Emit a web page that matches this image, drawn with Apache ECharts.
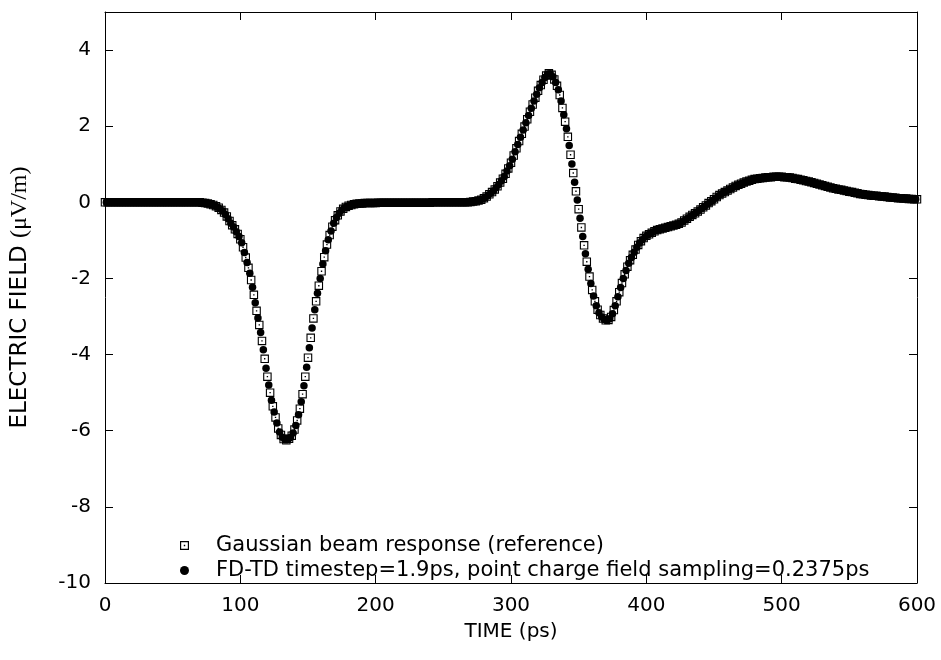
<!DOCTYPE html>
<html><head><meta charset="utf-8">
<script src="https://cdn.jsdelivr.net/npm/echarts@6/dist/echarts.min.js"></script>
<style>html,body{margin:0;padding:0;background:#fff}#c{width:941px;height:660px}</style>
</head><body><div id="c"></div>
<script>
// Sample times (ps): reference at 0,2,4,...,600 ; FD-TD at 1,3,...,599
const refStart = 0, refStep = 2;
const fdtdStart = 1, fdtdStep = 2;

const seriesNames = [
  'Gaussian beam response (reference)',
  'FD-TD timestep=1.9ps, point charge field sampling=0.2375ps'
];

const xTickLabels = ['0','100','200','300','400','500','600'];
const yTickLabels = ['-10','-8','-6','-4','-2','0','2','4'];

// Reference (Gaussian beam response), t = 0..600 step 2
const refValues = [
  0,0,0,0,0,0,0,0,0,0,                                   // 0-18
  0,0,0,0,0,0,0,0,0,0,                                   // 20-38
  0,0,0,0,0,0,0,0,0,0,                                   // 40-58
  0,0,0,0,0,0,-0.01,-0.02,-0.03,-0.05,                   // 60-78
  -0.07,-0.10,-0.14,-0.20,-0.27,-0.37,-0.49,-0.60,-0.71,-0.83,   // 80-98
  -0.97,-1.18,-1.45,-1.72,-2.04,-2.43,-2.85,-3.22,-3.64,-4.11,   // 100-118
  -4.58,-5.00,-5.36,-5.65,-5.94,-6.11,-6.22,-6.25,-6.21,-6.13,   // 120-138
  -5.97,-5.73,-5.42,-5.04,-4.58,-4.08,-3.56,-3.05,-2.60,-2.19,   // 140-158
  -1.81,-1.44,-1.11,-0.86,-0.64,-0.47,-0.34,-0.24,-0.17,-0.12,   // 160-178
  -0.09,-0.07,-0.05,-0.04,-0.03,-0.03,-0.02,-0.02,-0.02,-0.02,   // 180-198
  -0.02,-0.01,-0.01,-0.01,-0.01,-0.01,-0.01,-0.01,-0.01,-0.01,   // 200-218
  -0.01,-0.01,-0.01,-0.01,-0.01,-0.01,-0.01,-0.01,-0.01,-0.01,   // 220-238
  -0.01,0,0,0,0,0,0,0,0,0,                                       // 240-258
  0,0,0,0,0,0.01,0.02,0.03,0.05,0.07,                            // 260-278
  0.11,0.15,0.21,0.27,0.34,0.42,0.52,0.62,0.75,0.89,             // 280-298
  1.04,1.23,1.42,1.61,1.80,1.99,2.18,2.38,2.57,2.75,             // 300-318
  2.93,3.08,3.22,3.33,3.39,3.35,3.23,3.06,2.82,2.48,             // 320-338
  2.12,1.72,1.25,0.77,0.29,-0.18,-0.66,-1.13,-1.56,-1.95,        // 340-358
  -2.30,-2.60,-2.82,-2.96,-3.05,-3.10,-3.09,-3.01,-2.83,-2.60,   // 360-378
  -2.36,-2.12,-1.89,-1.69,-1.52,-1.38,-1.24,-1.12,-1.02,-0.94,   // 380-398
  -0.88,-0.84,-0.80,-0.76,-0.73,-0.71,-0.69,-0.67,-0.65,-0.63,   // 400-418
  -0.61,-0.59,-0.56,-0.53,-0.48,-0.43,-0.38,-0.33,-0.29,-0.24,   // 420-438
  -0.19,-0.13,-0.08,-0.02,0.03,0.08,0.14,0.19,0.23,0.27,         // 440-458
  0.31,0.35,0.39,0.43,0.46,0.49,0.52,0.55,0.57,0.59,             // 460-478
  0.61,0.62,0.63,0.64,0.65,0.66,0.66,0.67,0.67,0.67,             // 480-498
  0.67,0.66,0.66,0.65,0.64,0.62,0.61,0.59,0.58,0.56,             // 500-518
  0.55,0.53,0.51,0.49,0.47,0.45,0.43,0.41,0.39,0.37,             // 520-538
  0.36,0.34,0.33,0.31,0.30,0.28,0.27,0.25,0.24,0.22,             // 540-558
  0.21,0.20,0.19,0.18,0.17,0.17,0.16,0.15,0.15,0.14,             // 560-578
  0.13,0.13,0.12,0.11,0.11,0.10,0.10,0.09,0.09,0.08,             // 580-598
  0.08                                                           // 600
];

// FD-TD result, t = 1..599 step 2
const fdtdValues = [
  0,0,0,0,0,0,0,0,0,0,                                           // 1-19
  0,0,0,0,0,0,0,0,0,0,                                           // 21-39
  0,0,0,0,0,0,0,0,0,0,                                           // 41-59
  0,0,0,0,0,-0.01,-0.01,-0.02,-0.04,-0.06,                       // 61-79
  -0.08,-0.12,-0.17,-0.23,-0.32,-0.43,-0.55,-0.65,-0.77,-0.90,   // 81-99
  -1.06,-1.32,-1.58,-1.86,-2.23,-2.64,-3.04,-3.42,-3.87,-4.36,   // 101-119
  -4.80,-5.20,-5.51,-5.80,-6.03,-6.17,-6.24,-6.24,-6.18,-6.06,   // 121-139
  -5.86,-5.58,-5.24,-4.82,-4.33,-3.82,-3.30,-2.82,-2.39,-2.00,   // 141-159
  -1.62,-1.27,-0.98,-0.75,-0.55,-0.40,-0.29,-0.20,-0.14,-0.10,   // 161-179
  -0.08,-0.06,-0.05,-0.04,-0.03,-0.03,-0.02,-0.02,-0.02,-0.02,   // 181-199
  -0.01,-0.01,-0.01,-0.01,-0.01,-0.01,-0.01,-0.01,-0.01,-0.01,   // 201-219
  -0.01,-0.01,-0.01,-0.01,-0.01,-0.01,-0.01,-0.01,-0.01,-0.01,   // 221-239
  0,0,0,0,0,0,0,0,0,0,                                           // 241-259
  0,0,0,0,0.01,0.01,0.02,0.04,0.06,0.09,                         // 261-279
  0.13,0.18,0.24,0.30,0.38,0.47,0.57,0.68,0.82,0.96,             // 281-299
  1.13,1.33,1.52,1.71,1.90,2.09,2.28,2.47,2.66,2.84,             // 301-319
  3.01,3.15,3.28,3.37,3.38,3.30,3.15,2.96,2.66,2.30,             // 321-339
  1.93,1.49,1.01,0.53,0.06,-0.42,-0.90,-1.35,-1.76,-2.13,        // 341-359
  -2.46,-2.72,-2.90,-3.01,-3.08,-3.10,-3.06,-2.93,-2.72,-2.48,   // 361-379
  -2.24,-2.00,-1.79,-1.60,-1.45,-1.31,-1.18,-1.07,-0.98,-0.91,   // 381-399
  -0.86,-0.82,-0.78,-0.74,-0.72,-0.70,-0.68,-0.66,-0.64,-0.62,   // 401-419
  -0.60,-0.57,-0.55,-0.51,-0.46,-0.41,-0.36,-0.31,-0.26,-0.21,   // 421-439
  -0.16,-0.11,-0.05,0.00,0.05,0.11,0.16,0.21,0.25,0.29,          // 441-459
  0.33,0.37,0.41,0.44,0.47,0.50,0.53,0.56,0.58,0.60,             // 461-479
  0.61,0.63,0.64,0.65,0.65,0.66,0.66,0.67,0.67,0.67,             // 481-499
  0.67,0.66,0.65,0.65,0.63,0.61,0.60,0.58,0.57,0.55,             // 501-519
  0.54,0.52,0.50,0.48,0.46,0.44,0.42,0.40,0.38,0.36,             // 521-539
  0.35,0.33,0.32,0.30,0.29,0.27,0.26,0.24,0.23,0.22,             // 541-559
  0.20,0.19,0.18,0.17,0.17,0.16,0.15,0.15,0.14,0.14,             // 561-579
  0.13,0.12,0.12,0.11,0.10,0.10,0.09,0.09,0.08,0.08              // 581-599
];

const SANS = 'DejaVu Sans';
const squareSymbol = 'path://M0 0H10V10H0Z M1.3 1.3V8.7H8.7V1.3Z M4.2 4.2H5.8V5.8H4.2Z';

const refData = refValues.map((v, i) => [refStart + i * refStep, v]);
const fdtdData = fdtdValues.map((v, i) => [fdtdStart + i * fdtdStep, v]);

const lineStyle = { color: '#000', width: 1 };
const tickStyle = { inside: true, length: 8, lineStyle: { color: '#000', width: 1 } };

function xAxisBase(pos) {
  return {
    type: 'value', position: pos, min: 0, max: 600, interval: 100,
    axisLine: { show: true, onZero: false, lineStyle: lineStyle },
    axisTick: tickStyle,
    splitLine: { show: false },
    axisLabel: { show: false }
  };
}
function yAxisBase(pos) {
  return {
    type: 'value', position: pos, min: -10, max: 5, interval: 2,
    axisLine: { show: true, onZero: false, lineStyle: lineStyle },
    axisTick: tickStyle,
    splitLine: { show: false },
    axisLabel: { show: false }
  };
}

const xBottom = xAxisBase('bottom');
xBottom.axisLabel = {
  show: true, margin: 13, color: '#000', fontFamily: SANS, fontSize: 20,
  formatter: v => xTickLabels[xTickLabels.indexOf(String(v))] || String(v)
};
xBottom.name = 'TIME (ps)';
xBottom.nameLocation = 'middle';
xBottom.nameGap = 39;
xBottom.nameTextStyle = { color: '#000', fontFamily: SANS, fontSize: 20 };

const yLeft = yAxisBase('left');
yLeft.axisLabel = {
  show: true, margin: 14, color: '#000', fontFamily: SANS, fontSize: 20,
  showMaxLabel: false,
  formatter: v => (yTickLabels.indexOf(String(v)) >= 0 ? String(v) : '')
};
yLeft.name = '{a|ELECTRIC FIELD }{b|(\u03bcV/m)}';
yLeft.nameLocation = 'middle';
yLeft.nameGap = 73;
yLeft.nameTextStyle = {
  color: '#000',
  rich: {
    a: { fontFamily: SANS, fontSize: 23, color: '#000' },
    b: { fontFamily: 'Liberation Serif', fontSize: 24, color: '#000' }
  }
};

const chart = echarts.init(document.getElementById('c'), null, { renderer: 'canvas' });
chart.setOption({
  animation: false,
  backgroundColor: '#fff',
  grid: { left: 105, right: 24, top: 12, bottom: 77, containLabel: false, outerBoundsMode: 'none' },
  xAxis: [xBottom, xAxisBase('top')],
  yAxis: [yLeft, yAxisBase('right')],
  legend: {
    orient: 'vertical', left: 175, top: 528,
    itemWidth: 9, itemHeight: 9, itemGap: 0,
    selectedMode: false,
    textStyle: { color: '#000', fontFamily: SANS, fontSize: 21, lineHeight: 25, padding: [0, 0, 0, 22] },
    data: [
      { name: seriesNames[0], icon: squareSymbol, itemStyle: { opacity: 1 } },
      { name: seriesNames[1], icon: 'circle', itemStyle: { opacity: 1 } }
    ]
  },
  series: [
    {
      type: 'scatter', name: seriesNames[0], xAxisIndex: 0, yAxisIndex: 0,
      data: refData, symbol: squareSymbol, symbolSize: 8.5,
      itemStyle: { color: '#000', opacity: 1 }, silent: true, z: 2,
      emphasis: { disabled: true }
    },
    {
      type: 'scatter', name: seriesNames[1], xAxisIndex: 0, yAxisIndex: 0,
      data: fdtdData, symbol: 'circle', symbolSize: 7.5,
      itemStyle: { color: '#000', opacity: 1 }, silent: true, z: 3,
      emphasis: { disabled: true }
    }
  ]
});
</script>
</body></html>
